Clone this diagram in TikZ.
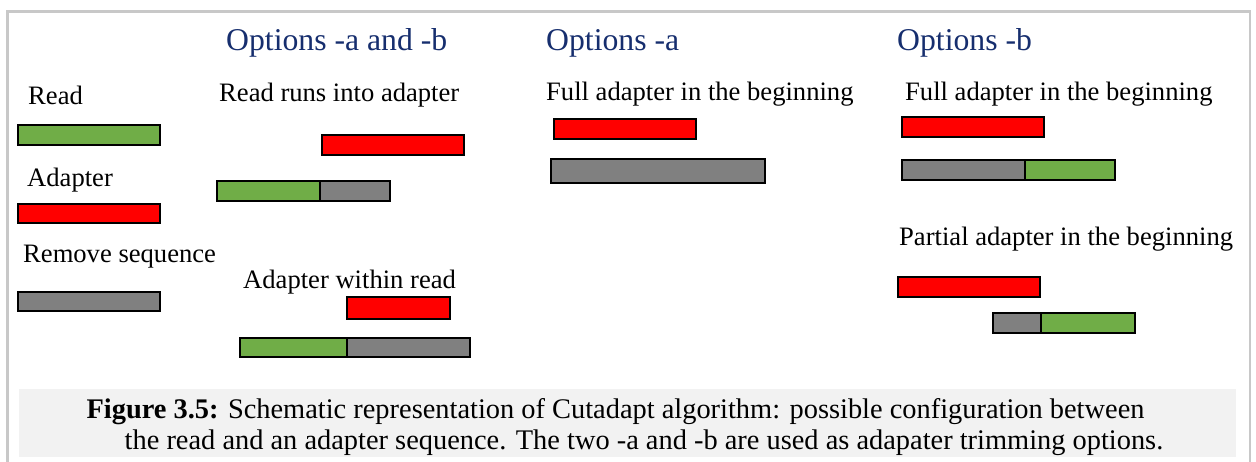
\documentclass[tikz,border=0pt]{standalone}
\usepackage{fontspec}
\setmainfont{Liberation Serif}
\definecolor{hblue}{RGB}{22,46,110}
\definecolor{rgreen}{RGB}{112,173,71}
\definecolor{rgray}{RGB}{128,128,128}
\definecolor{capbg}{RGB}{242,242,242}
\definecolor{frame}{RGB}{200,200,200}
\tikzset{
  bar/.style={draw=black, line width=2.4pt},
  gbar/.style={bar, fill=rgreen},
  rbar/.style={bar, fill=red},
  ybar/.style={bar, fill=rgray},
  head/.style={anchor=base west, inner sep=0pt, text=hblue, font=\fontsize{31.7}{36}\selectfont},
  lbl/.style={anchor=base west, inner sep=0pt, font=\fontsize{26.6}{30}\selectfont},
  captxt/.style={anchor=base, inner sep=0pt, font=\fontsize{28.4}{32}\selectfont},
}
\begin{document}
\begin{tikzpicture}[x=1pt,y=-1pt]
\useasboundingbox (0,0) rectangle (1256,461);
\fill[white] (0,0) rectangle (1256,461);
\draw[frame, line width=2.5pt] (7.5,470) -- (7.5,11.5) -- (1250,11.5) -- (1250,470);
\fill[capbg] (19,389) rectangle (1236,457);
% headings
\node[head] (h1) at (226,50) {Options -a and -b};
\node[head] (h2) at (546,50) {Options -a};
\node[head] (h3) at (897,50) {Options -b};
% legend
\node[lbl] (tread) at (28,104) {Read};
\draw[gbar] (18,125) rectangle (160,145);
\node[lbl] (tadp) at (27,186) {Adapter};
\draw[rbar] (18,204) rectangle (160,223);
\node[lbl] (trem) at (23,262) {Remove sequence};
\draw[ybar] (18,292) rectangle (160,311);
% read runs into adapter
\node[lbl] (trun) at (219,101) {Read runs into adapter};
\draw[rbar] (322,135) rectangle (464,155);
\draw[gbar] (217,181) rectangle (320,201);
\draw[ybar] (320,181) rectangle (390,201);
% adapter within read
\node[lbl] (twith) at (243,288) {Adapter within read};
\draw[rbar] (347,297) rectangle (450,319);
\draw[gbar] (240,338) rectangle (347,357);
\draw[ybar] (347,338) rectangle (470,357);
% options -a
\node[lbl] (tfa) at (546,100) {Full adapter in the beginning};
\draw[rbar] (554,119) rectangle (696,139);
\draw[ybar] (551,159) rectangle (765,183);
% options -b
\node[lbl] (tfb) at (905,100) {Full adapter in the beginning};
\draw[rbar] (902,117) rectangle (1044,137);
\draw[ybar] (902,160) rectangle (1025,180);
\draw[gbar] (1025,160) rectangle (1115,180);
\node[lbl] (tpb) at (899,245) {Partial adapter in the beginning};
\draw[rbar] (898,277) rectangle (1040,297);
\draw[ybar] (993,313) rectangle (1041,333);
\draw[gbar] (1041,313) rectangle (1135,333);
% caption
\node[captxt] (cap1) at (615.5,418) {\textbf{Figure 3.5:} Schematic representation of Cutadapt algorithm: possible configuration between};
\node[captxt] (cap2) at (644,449) {the read and an adapter sequence. The two -a and -b are used as adapater trimming options.};
\end{tikzpicture}
\end{document}
